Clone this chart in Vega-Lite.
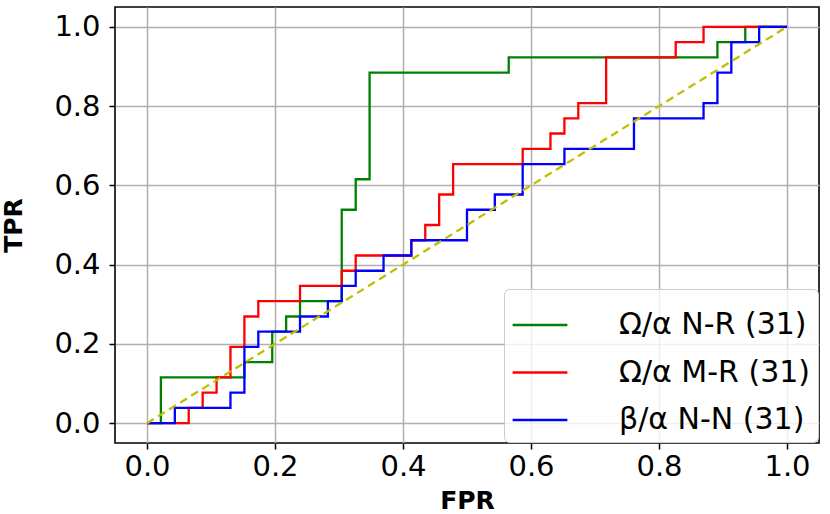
{
  "$schema": "https://vega.github.io/schema/vega-lite/v6.json",
  "autosize": "none",
  "width": 704,
  "height": 436,
  "padding": {"left": 115, "top": 7, "right": 11, "bottom": 71},
  "background": "white",
  "config": {
    "view": {"stroke": "#000000", "strokeWidth": 1.6},
    "font": "DejaVu Sans",
    "axis": {
      "domain": false,
      "grid": true,
      "gridColor": "#b0b0b0",
      "gridWidth": 1.5,
      "tickColor": "#000000",
      "tickWidth": 1.5,
      "tickSize": 6,
      "labelFont": "DejaVu Sans",
      "labelFontSize": 29,
      "labelColor": "#000000",
      "titleFont": "DejaVu Sans",
      "titleFontSize": 25,
      "titleFontWeight": "bold",
      "titleColor": "#000000"
    },
    "legend": {
      "labelFont": "DejaVu Sans",
      "labelFontSize": 30,
      "labelColor": "#000000",
      "labelLimit": 600
    }
  },
  "datasets": {
    "roc": [
      {"series": "Ω/α N-R (31)", "fpr": 0.0, "tpr": 0.0},
      {"series": "Ω/α N-R (31)", "fpr": 0.0217, "tpr": 0.1154},
      {"series": "Ω/α N-R (31)", "fpr": 0.1522, "tpr": 0.1538},
      {"series": "Ω/α N-R (31)", "fpr": 0.1957, "tpr": 0.2308},
      {"series": "Ω/α N-R (31)", "fpr": 0.2174, "tpr": 0.2692},
      {"series": "Ω/α N-R (31)", "fpr": 0.2391, "tpr": 0.3077},
      {"series": "Ω/α N-R (31)", "fpr": 0.3043, "tpr": 0.5385},
      {"series": "Ω/α N-R (31)", "fpr": 0.3261, "tpr": 0.6154},
      {"series": "Ω/α N-R (31)", "fpr": 0.3478, "tpr": 0.8846},
      {"series": "Ω/α N-R (31)", "fpr": 0.5652, "tpr": 0.9231},
      {"series": "Ω/α N-R (31)", "fpr": 0.8913, "tpr": 0.9615},
      {"series": "Ω/α N-R (31)", "fpr": 0.9348, "tpr": 1.0},
      {"series": "Ω/α N-R (31)", "fpr": 1.0, "tpr": 1.0},

      {"series": "Ω/α M-R (31)", "fpr": 0.0, "tpr": 0.0},
      {"series": "Ω/α M-R (31)", "fpr": 0.0652, "tpr": 0.0385},
      {"series": "Ω/α M-R (31)", "fpr": 0.087, "tpr": 0.0769},
      {"series": "Ω/α M-R (31)", "fpr": 0.1087, "tpr": 0.1154},
      {"series": "Ω/α M-R (31)", "fpr": 0.1304, "tpr": 0.1923},
      {"series": "Ω/α M-R (31)", "fpr": 0.1522, "tpr": 0.2692},
      {"series": "Ω/α M-R (31)", "fpr": 0.1739, "tpr": 0.3077},
      {"series": "Ω/α M-R (31)", "fpr": 0.2391, "tpr": 0.3462},
      {"series": "Ω/α M-R (31)", "fpr": 0.3043, "tpr": 0.3846},
      {"series": "Ω/α M-R (31)", "fpr": 0.3261, "tpr": 0.4231},
      {"series": "Ω/α M-R (31)", "fpr": 0.413, "tpr": 0.4615},
      {"series": "Ω/α M-R (31)", "fpr": 0.4348, "tpr": 0.5},
      {"series": "Ω/α M-R (31)", "fpr": 0.4565, "tpr": 0.5769},
      {"series": "Ω/α M-R (31)", "fpr": 0.4783, "tpr": 0.6538},
      {"series": "Ω/α M-R (31)", "fpr": 0.587, "tpr": 0.6923},
      {"series": "Ω/α M-R (31)", "fpr": 0.6304, "tpr": 0.7308},
      {"series": "Ω/α M-R (31)", "fpr": 0.6522, "tpr": 0.7692},
      {"series": "Ω/α M-R (31)", "fpr": 0.6739, "tpr": 0.8077},
      {"series": "Ω/α M-R (31)", "fpr": 0.7174, "tpr": 0.9231},
      {"series": "Ω/α M-R (31)", "fpr": 0.8261, "tpr": 0.9615},
      {"series": "Ω/α M-R (31)", "fpr": 0.8696, "tpr": 1.0},
      {"series": "Ω/α M-R (31)", "fpr": 1.0, "tpr": 1.0},

      {"series": "β/α N-N (31)", "fpr": 0.0, "tpr": 0.0},
      {"series": "β/α N-N (31)", "fpr": 0.0435, "tpr": 0.0385},
      {"series": "β/α N-N (31)", "fpr": 0.1304, "tpr": 0.0769},
      {"series": "β/α N-N (31)", "fpr": 0.1522, "tpr": 0.1923},
      {"series": "β/α N-N (31)", "fpr": 0.1739, "tpr": 0.2308},
      {"series": "β/α N-N (31)", "fpr": 0.2391, "tpr": 0.2692},
      {"series": "β/α N-N (31)", "fpr": 0.2826, "tpr": 0.3077},
      {"series": "β/α N-N (31)", "fpr": 0.3043, "tpr": 0.3462},
      {"series": "β/α N-N (31)", "fpr": 0.3261, "tpr": 0.3846},
      {"series": "β/α N-N (31)", "fpr": 0.3696, "tpr": 0.4231},
      {"series": "β/α N-N (31)", "fpr": 0.413, "tpr": 0.4615},
      {"series": "β/α N-N (31)", "fpr": 0.5, "tpr": 0.5385},
      {"series": "β/α N-N (31)", "fpr": 0.5435, "tpr": 0.5769},
      {"series": "β/α N-N (31)", "fpr": 0.587, "tpr": 0.6538},
      {"series": "β/α N-N (31)", "fpr": 0.6522, "tpr": 0.6923},
      {"series": "β/α N-N (31)", "fpr": 0.7609, "tpr": 0.7692},
      {"series": "β/α N-N (31)", "fpr": 0.8696, "tpr": 0.8077},
      {"series": "β/α N-N (31)", "fpr": 0.8913, "tpr": 0.8846},
      {"series": "β/α N-N (31)", "fpr": 0.913, "tpr": 0.9615},
      {"series": "β/α N-N (31)", "fpr": 0.9565, "tpr": 1.0},
      {"series": "β/α N-N (31)", "fpr": 1.0, "tpr": 1.0}
    ],
    "diag": [
      {"fpr": 0.0, "tpr": 0.0},
      {"fpr": 1.0, "tpr": 1.0}
    ]
  },
  "encoding": {
    "x": {
      "field": "fpr", "type": "quantitative", "title": "FPR",
      "scale": {"domain": [-0.05, 1.05], "nice": false, "zero": false},
      "axis": {"values": [0, 0.2, 0.4, 0.6, 0.8, 1.0], "format": ".1f", "labelPadding": 3, "titlePadding": 7}
    },
    "y": {
      "field": "tpr", "type": "quantitative", "title": "TPR",
      "scale": {"domain": [-0.05, 1.05], "nice": false, "zero": false},
      "axis": {"values": [0, 0.2, 0.4, 0.6, 0.8, 1.0], "format": ".1f", "labelPadding": 9, "titlePadding": 27}
    }
  },
  "layer": [
    {
      "data": {"name": "roc"},
      "transform": [{"filter": "datum.series === 'Ω/α N-R (31)'"}],
      "mark": {"type": "line", "interpolate": "step-after", "strokeWidth": 2.3},
      "encoding": {
        "color": {
          "field": "series", "type": "nominal", "title": null,
          "scale": {"domain": ["Ω/α N-R (31)", "Ω/α M-R (31)", "β/α N-N (31)"], "range": ["#008000", "#ff0000", "#0000ff"]},
          "legend": {
            "orient": "bottom-right", "offset": 1,
            "symbolType": "stroke", "symbolSize": 3000, "symbolStrokeWidth": 2.5,
            "labelOffset": 50, "rowPadding": 3.5, "padding": 7,
            "fillColor": "rgba(255,255,255,0.8)", "strokeColor": "#cccccc", "cornerRadius": 5
          }
        }
      }
    },
    {
      "data": {"name": "roc"},
      "transform": [{"filter": "datum.series === 'Ω/α M-R (31)'"}],
      "mark": {"type": "line", "interpolate": "step-after", "strokeWidth": 2.3},
      "encoding": {"color": {"field": "series", "type": "nominal"}}
    },
    {
      "data": {"name": "roc"},
      "transform": [{"filter": "datum.series === 'β/α N-N (31)'"}],
      "mark": {"type": "line", "interpolate": "step-after", "strokeWidth": 2.3},
      "encoding": {"color": {"field": "series", "type": "nominal"}}
    },
    {
      "data": {"name": "diag"},
      "mark": {"type": "line", "color": "#bfbf00", "strokeWidth": 2.3, "strokeDash": [8, 5]},
      "encoding": {}
    }
  ]
}
